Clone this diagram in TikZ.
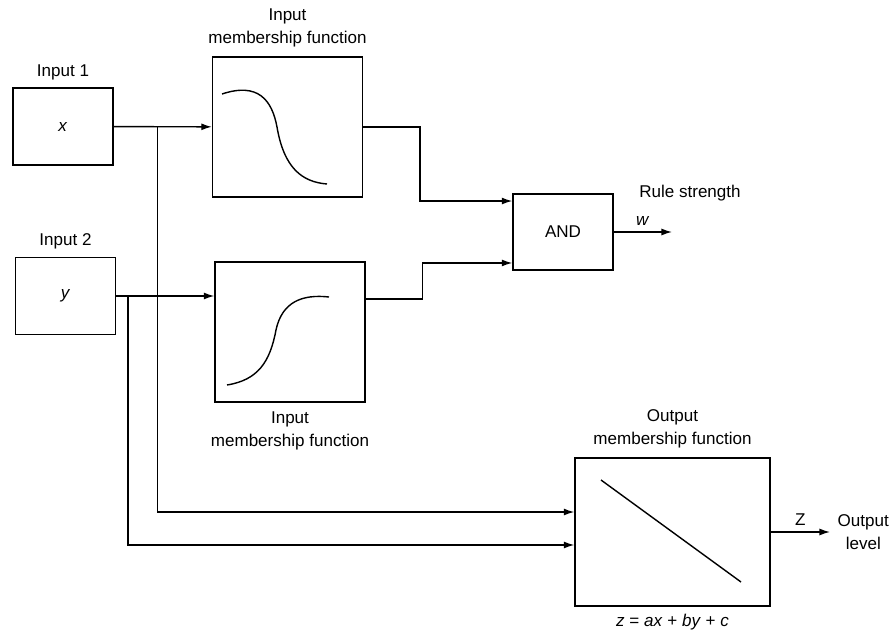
\documentclass[tikz,border=0pt]{standalone}
\usepackage{fontspec}
\setmainfont{Liberation Sans}
\usepackage{tikz}
\usetikzlibrary{arrows.meta,positioning,calc}

\begin{document}
\begin{tikzpicture}[x=0.02cm, y=-0.02cm, line width=0.8pt,
    font=\fontsize{9.7}{13}\selectfont,
    block/.style={rectangle, draw, minimum width=#1, text centered},
    inbox/.style={block=2cm, minimum height=1.54cm},
    mfbox/.style={block=3cm, minimum height=2.8cm},
    txt/.style={align=center, inner sep=2pt},
    flow/.style={-{Latex[length=6pt,width=4pt]}}]

\useasboundingbox (0,0) rectangle (890,635);

\node[inbox] (in1) at (63,126.5) {\textit{x}};
\node[inbox] (in2) at (65.5,296) {\textit{y}};
\node[mfbox] (mf1) at (287.5,127) {};
\node[mfbox] (mf2) at (290,332) {};
\node[block=2cm, minimum height=1.52cm] (and) at (563,232) {AND};
\node[block=3.9cm, minimum height=2.96cm] (out) at (672.5,532) {};

\node[txt, above=2pt of in1] (in1lbl) {Input 1};
\node[txt, above=2pt of in2] (in2lbl) {Input 2};
\node[txt, above=3pt of mf1] (mf1lbl) {Input\\membership function};
\node[txt, below=3pt of mf2] (mf2lbl) {Input\\membership function};
\node[txt, above=3pt of out] (outlbl) {Output\\membership function};
\node[txt, below=2pt of out] (eqn) {\textit{z} = \textit{ax} + \textit{by} + \textit{c}};
\node[txt] (rule) at (690,193) {Rule strength};

\coordinate (wend) at (672,232);
\coordinate (zend) at (830,532);
\node[txt, right=2pt of zend] (level) {Output\\level};

% membership curves
\draw (222,94) .. controls (258,82) and (272,100) .. (277,127)
      .. controls (284,168) and (302,182) .. (327,184);
\draw (227,385) .. controls (258,380) and (270,362) .. (276,330)
      .. controls (282,302) and (302,294) .. (329,297);
\draw (601,480) -- (741,582);

% connectors
\draw[flow] (in1) -- (mf1);
\draw[flow] (in2.east) -- (in2.east -| mf2.west);
\draw[flow] (in1.east) ++(44,0) |- ([yshift=0.4cm]out.west);
\draw[flow] (in2.east) ++(12,0) |- ([yshift=-0.26cm]out.west);
\draw[flow] (mf1.east) -- ++(57,0) |- ([yshift=0.62cm]and.west);
\draw[flow] ([yshift=0.66cm]mf2.east) -- ++(57,0) |- ([yshift=-0.62cm]and.west);
\draw[flow] (and.east) -- (wend) node[midway, above]{\textit{w}};
\draw[flow] (out.east) -- (zend) node[midway, above]{Z};
\end{tikzpicture}
\end{document}
